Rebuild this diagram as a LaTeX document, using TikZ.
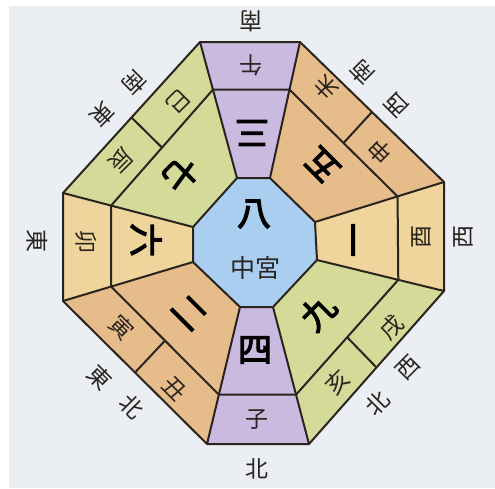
\documentclass[tikz,border=0pt]{standalone}
\usepackage{fontspec}
\newfontfamily\jpfont{Noto Sans CJK JP}
\newfontfamily\jpbold[FakeBold=3.5]{Noto Sans CJK JP}
\usetikzlibrary{calc}

\definecolor{bgc}{HTML}{EBEEF2}
\definecolor{purp}{HTML}{CBBAE0}
\definecolor{tan}{HTML}{E6BC8A}
\definecolor{sand}{HTML}{EFD59C}
\definecolor{leaf}{HTML}{D4DA97}
\definecolor{sky}{HTML}{A9CEEF}
\definecolor{ink}{HTML}{2A241F}

\tikzset{
  edge/.style={draw=ink, line width=2pt, line join=round},
  lab/.style={font=\jpfont\fontsize{23}{23}\selectfont, text=ink, inner sep=0pt},
  num/.style={font=\jpbold\fontsize{34}{34}\selectfont, text=black, inner sep=0pt},
}

\begin{document}
\begin{tikzpicture}[x=1pt, y=-1pt]
  \useasboundingbox (0,0) rectangle (495,488);
  \fill[white] (0,0) rectangle (495,488);
  \fill[bgc] (9,6) rectangle (495,488);

  % outer ring
  \coordinate (O1) at (200, 42);
  \coordinate (O2) at (300, 42);
  \coordinate (O3) at (444, 182);
  \coordinate (O4) at (444, 291);
  \coordinate (O5) at (309, 444);
  \coordinate (O6) at (207, 444);
  \coordinate (O7) at (63, 301);
  \coordinate (O8) at (63, 193);

  % centre palace
  \coordinate (I1) at (237, 178);
  \coordinate (I2) at (270, 178);
  \coordinate (I3) at (315, 222);
  \coordinate (I4) at (317, 260);
  \coordinate (I5) at (273, 307);
  \coordinate (I6) at (240, 307);
  \coordinate (I7) at (193, 262);
  \coordinate (I8) at (193, 227);

  % middle ring
  \coordinate (M1) at ($(O1)!0.35!(I1)$);
  \coordinate (M2) at ($(O2)!0.35!(I2)$);
  \coordinate (M3) at ($(O3)!0.36!(I3)$);
  \coordinate (M4) at ($(O4)!0.36!(I4)$);
  \coordinate (M5) at ($(O5)!0.36!(I5)$);
  \coordinate (M6) at ($(O6)!0.36!(I6)$);
  \coordinate (M7) at ($(O7)!0.37!(I7)$);
  \coordinate (M8) at ($(O8)!0.37!(I8)$);

  \fill[purp] (O1) -- (O2) -- (I2) -- (I1) -- cycle;
  \fill[tan]  (O2) -- (O3) -- (I3) -- (I2) -- cycle;
  \fill[sand] (O3) -- (O4) -- (I4) -- (I3) -- cycle;
  \fill[leaf] (O4) -- (O5) -- (I5) -- (I4) -- cycle;
  \fill[purp] (O5) -- (O6) -- (I6) -- (I5) -- cycle;
  \fill[tan]  (O6) -- (O7) -- (I7) -- (I6) -- cycle;
  \fill[sand] (O7) -- (O8) -- (I8) -- (I7) -- cycle;
  \fill[leaf] (O8) -- (O1) -- (I1) -- (I8) -- cycle;
  \fill[sky]  (I1) -- (I2) -- (I3) -- (I4) -- (I5) -- (I6) -- (I7) -- (I8) -- cycle;

  \draw[edge] (O1) -- (O2) -- (O3) -- (O4) -- (O5) -- (O6) -- (O7) -- (O8) -- cycle;
  \draw[edge] (M1) -- (M2) -- (M3) -- (M4) -- (M5) -- (M6) -- (M7) -- (M8) -- cycle;
  \draw[edge] (I1) -- (I2) -- (I3) -- (I4) -- (I5) -- (I6) -- (I7) -- (I8) -- cycle;
  \draw[edge] (O1) -- (I1);
  \draw[edge] (O2) -- (I2);
  \draw[edge] (O3) -- (I3);
  \draw[edge] (O4) -- (I4);
  \draw[edge] (O5) -- (I5);
  \draw[edge] (O6) -- (I6);
  \draw[edge] (O7) -- (I7);
  \draw[edge] (O8) -- (I8);

  % 斜めの枠を二つに分ける
  \draw[edge] ($(O2)!0.5!(O3)$) -- ($(M2)!0.5!(M3)$);
  \draw[edge] ($(O4)!0.5!(O5)$) -- ($(M4)!0.5!(M5)$);
  \draw[edge] ($(O6)!0.5!(O7)$) -- ($(M6)!0.5!(M7)$);
  \draw[edge] ($(O8)!0.5!(O1)$) -- ($(M8)!0.5!(M1)$);

  % 方位
  \node[lab, rotate=180]  (south)  at (251, 21)  {南};
  \node[lab, rotate=135]  (swW)    at (397, 105) {西};
  \node[lab, rotate=135]  (swS)    at (362, 73)  {南};
  \node[lab, rotate=90]   (west)   at (463, 237) {西};
  \node[lab, rotate=45]   (nwN)    at (378, 403) {北};
  \node[lab, rotate=45]   (nwW)    at (408, 368) {西};
  \node[lab]              (north)  at (257, 469) {北};
  \node[lab, rotate=-45]  (neE)    at (100, 377) {東};
  \node[lab, rotate=-45]  (neN)    at (132, 407) {北};
  \node[lab, rotate=-90]  (east)   at (37, 241)  {東};
  \node[lab, rotate=-135] (seS)    at (135, 83)  {南};
  \node[lab, rotate=-135] (seE)    at (103, 115) {東};

  % 十二支
  \node[lab, rotate=180]  (uma)    at (251, 65)  {午};
  \node[lab, rotate=135]  (hitsuji) at (326, 88) {未};
  \node[lab, rotate=135]  (saru)   at (380, 152) {申};
  \node[lab, rotate=90]   (tori)   at (421, 237) {酉};
  \node[lab, rotate=45]   (inu)    at (392, 327) {戌};
  \node[lab, rotate=45]   (i)      at (337, 382) {亥};
  \node[lab]              (ne)     at (257, 420) {子};
  \node[lab, rotate=-45]  (ushi)   at (175, 389) {丑};
  \node[lab, rotate=-45]  (tora)   at (122, 327) {寅};
  \node[lab, rotate=-90]  (u)      at (86, 242)  {卯};
  \node[lab, rotate=-135] (tatsu)  at (121, 160) {辰};
  \node[lab, rotate=-135] (mi)     at (178, 102) {巳};

  % 九星
  \node[num, rotate=180]  (n3)     at (252, 133) {三};
  \node[num, rotate=135]  (n5)     at (322, 165) {五};
  \node[num, rotate=90]   (n1)     at (359, 240) {一};
  \node[num, rotate=45]   (n9)     at (318, 312) {九};
  \node[num]              (n4)     at (255, 350) {四};
  \node[num, rotate=-45]  (n2)     at (189, 313) {二};
  \node[num, rotate=-90]  (n6)     at (146, 240) {六};
  \node[num, rotate=-135] (n7)     at (181, 174) {七};
  \node[num]              (n8)     at (254, 214) {八};
  \node[lab, font=\jpfont\fontsize{25}{25}\selectfont] (chu) at (255, 268) {中宮};
\end{tikzpicture}
\end{document}
